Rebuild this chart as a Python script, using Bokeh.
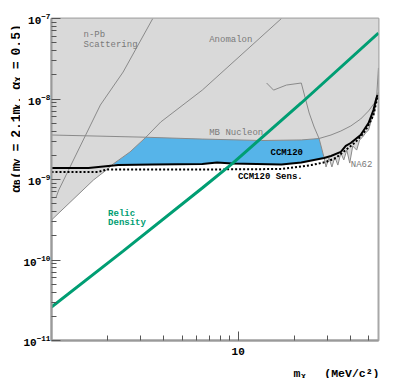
import math
from bokeh.plotting import figure
from bokeh.layouts import row, column
from bokeh.models import FixedTicker, LogTickFormatter, BasicTickFormatter
from bokeh.core.properties import value
from bokeh.embed import file_html
from bokeh.resources import INLINE

# ---------------- data ----------------
x_major_ticks = [10]
x_minor_ticks = [2, 3, 4, 5, 6, 7, 8, 9, 20, 30, 40, 50]
y_major_ticks = [1e-11, 1e-10, 1e-9, 1e-8, 1e-7]
y_minor_ticks = [m * 10.0 ** e for e in (-11, -10, -9, -8) for m in range(2, 10)]

# Anomalon bound (also lower edge of the grey region at small mass)
anom_x = [1.0, 1.678, 1.966, 2.141, 2.634, 3.203, 3.846, 6.42, 17.04]
anom_y = [3.14e-10, 9.86e-10, 1.31e-9, 1.56e-9, 2.20e-9, 3.35e-9, 5.18e-9, 1.29e-8, 1.0e-7]

# n-Pb scattering bound
npb_x = [1.055, 1.094, 1.827, 2.418, 3.487]
npb_y = [5.89e-10, 7.41e-10, 8.42e-9, 2.16e-8, 1.0e-7]

# MiniBooNE nucleon bound
mb_x = [1.0, 3.203, 6.42, 13.35, 21.76, 27.1, 31.38, 35.44, 40.05, 45.24, 49.88, 53.66, 56.36]
mb_y = [3.57e-9, 3.35e-9, 3.18e-9, 3.05e-9, 3.10e-9, 3.23e-9, 3.57e-9, 4.0e-9, 4.62e-9,
        5.64e-9, 7.1e-9, 8.92e-9, 1.22e-8]

# other (kinked) beam-dump bound
bd_x = [14.19, 15.46, 18.12, 21.76, 23.99, 25.5, 27.1, 28.81]
bd_y = [1.58e-8, 1.29e-8, 1.49e-8, 1.58e-8, 6.70e-9, 4.49e-9, 3.23e-9, 1.88e-9]

# NA62 bound (spiky)
na_x = [28.81, 29.52, 30.62, 31.76, 32.94, 34.17, 35.44, 36.77, 38.14, 39.56, 41.05, 43.09,
        44.69, 46.36, 48.08, 49.88, 51.73, 53.66, 55.0, 56.36]
na_y = [1.90e-9, 1.43e-9, 1.85e-9, 1.43e-9, 1.90e-9, 1.51e-9, 2.13e-9, 1.75e-9, 2.32e-9,
        1.60e-9, 2.61e-9, 2.32e-9, 3.10e-9, 3.37e-9, 3.78e-9, 4.12e-9, 5.48e-9, 6.90e-9,
        9.72e-9, 2.43e-8]

# CCM120 limit (solid)
ccm_x = [1.0, 1.578, 1.895, 2.276, 3.487, 6.42, 7.71, 9.26, 17.04, 21.76, 28.81, 31.38,
         35.44, 37.67, 40.05, 45.24, 49.88, 53.01, 55.0, 55.67]
ccm_y = [1.39e-9, 1.39e-9, 1.45e-9, 1.51e-9, 1.54e-9, 1.56e-9, 1.63e-9, 1.58e-9, 1.54e-9,
         1.63e-9, 1.85e-9, 1.96e-9, 2.20e-9, 2.61e-9, 2.84e-9, 3.57e-9, 5.03e-9, 7.30e-9,
         1.03e-8, 1.12e-8]

# top edge of the new CCM120 exclusion (blue)
ccm_top_x = [2.141, 2.634, 3.203, 6.42, 13.35, 21.76, 27.1, 28.81]
ccm_top_y = [1.56e-9, 2.20e-9, 3.35e-9, 3.18e-9, 3.05e-9, 3.10e-9, 3.23e-9, 1.88e-9]

# CCM120 sensitivity (dotted)
sens_x = [1.0, 1.783, 1.966, 6.42, 17.04, 24.58, 29.52, 33.35, 37.67, 42.56, 46.93, 49.27,
          53.01, 55.67]
sens_y = [1.24e-9, 1.24e-9, 1.33e-9, 1.33e-9, 1.35e-9, 1.51e-9, 1.65e-9, 1.85e-9, 2.32e-9,
          2.92e-9, 3.78e-9, 4.49e-9, 6.33e-9, 1.06e-8]

# Relic density target
relic_x = [1.0, 2.418, 6.42, 9.26, 21.76, 56.36]
relic_y = [2.61e-11, 1.29e-10, 7.84e-10, 1.56e-9, 8.92e-9, 6.60e-8]

# in-plot labels
grey_text = ["n-Pb", "Scattering", "Anomalon", "MB Nucleon", "NA62"]
grey_tx = [1.485, 1.485, 6.99, 6.99, 40.05]
grey_ty = [6.24e-8, 4.69e-8, 5.41e-8, 3.78e-9, 1.51e-9]
ccm_text = ["CCM120", "CCM120 Sens."]
ccm_tx = [14.9, 9.96]
ccm_ty = [2.13e-9, 1.06e-9]
relic_text = ["Relic", "Density"]
relic_tx = [2.01, 2.01]
relic_ty = [3.73e-10, 2.88e-10]

# axis titles: normal pieces and subscript pieces, with their character slot
y_title_main = ["α", "(m", "=", "2.1m", ",", "α", "=", "0.5)"]
y_title_main_slot = [0, 2, 6, 8, 13, 15, 18, 20]
y_title_subs = ["B", "V", "χ", "χ"]
y_title_sub_slot = [1, 4, 12, 16]
x_title_main = "m"
x_title_sub = "χ"
x_title_unit = "(MeV/c²)"

X_MIN, X_MAX = 1.0, 56.4
Y_MIN, Y_MAX = 1e-11, 1e-7

# ---------------- build polygons from the curves ----------------
gx = [X_MIN, X_MIN] + anom_x[:4]
gy = [Y_MAX, anom_y[0]] + anom_y[:4]
for xx, yy in zip(ccm_x, ccm_y):
    if anom_x[3] < xx < na_x[0]:
        gx.append(xx); gy.append(yy)
gx += na_x + [X_MAX, X_MAX]
gy += na_y + [na_y[-1], Y_MAX]

bx = list(ccm_top_x)
by = list(ccm_top_y)
for xx, yy in reversed(list(zip(ccm_x, ccm_y))):
    if ccm_top_x[0] < xx <= ccm_top_x[-1]:
        bx.append(xx); by.append(yy)

# ---------------- geometry ----------------
LEFT_STRIP = 20          # strip holding the rotated y title
P_LEFT, P_TOP, P_RIGHT, P_BOTTOM = 28, 18, 12, 26
FW, FH = 330, 322
P_H = P_TOP + FH + P_BOTTOM
P_W = P_LEFT + FW + P_RIGHT
BOTTOM_STRIP = 12

# ---------------- main figure ----------------
p = figure(x_axis_type="log", y_axis_type="log",
           x_range=(X_MIN, X_MAX), y_range=(Y_MIN, Y_MAX),
           width=P_W, height=P_H,
           min_border_left=P_LEFT, min_border_right=P_RIGHT,
           min_border_top=P_TOP, min_border_bottom=P_BOTTOM,
           output_backend="svg", toolbar_location=None,
           background_fill_color="white", border_fill_color="white")
p.xgrid.visible = False
p.ygrid.visible = False
p.outline_line_color = "#a8a8a8"
p.outline_line_width = 2

p.xaxis.ticker = FixedTicker(ticks=x_major_ticks, minor_ticks=x_minor_ticks)
p.xaxis.formatter = BasicTickFormatter()
p.yaxis.ticker = FixedTicker(ticks=y_major_ticks, minor_ticks=y_minor_ticks)
p.yaxis.formatter = LogTickFormatter()
for ax in (p.xaxis[0], p.yaxis[0]):
    ax.axis_line_color = "#9a9a9a"
    ax.axis_line_width = 2
    ax.major_tick_in = 9
    ax.major_tick_out = 0
    ax.minor_tick_in = 5
    ax.minor_tick_out = 0
    ax.major_tick_line_color = "#555555"
    ax.minor_tick_line_color = "#555555"
    ax.major_label_text_font = "Liberation Mono"
    ax.major_label_text_font_style = "bold"
    ax.major_label_text_font_size = "11px"
    ax.major_label_text_color = "black"
p.xaxis.major_label_standoff = 7
p.yaxis.major_label_standoff = 1

p.patch(gx, gy, fill_color="#d9d9d9", line_color=None)
p.patch(bx, by, fill_color="#56B4E9", line_color=None)

grey_line = dict(line_color="#8a8a8a", line_width=1)
p.line(npb_x, npb_y, **grey_line)
p.line(anom_x, anom_y, **grey_line)
p.line(mb_x, mb_y, **grey_line)
p.line(bd_x, bd_y, **grey_line)
p.line(na_x, na_y, **grey_line)

p.line(ccm_x, ccm_y, line_color="black", line_width=2)
p.line(sens_x, sens_y, line_color="black", line_width=2, line_dash="2 2")
p.line(relic_x, relic_y, line_color="#009E73", line_width=3)

mono = value("Liberation Mono")
p.text(grey_tx, grey_ty, text=grey_text, text_font=mono, text_font_size="9px",
       text_color="#7a7a7a", text_baseline="middle", text_align="left")
p.text(ccm_tx, ccm_ty, text=ccm_text, text_font=mono, text_font_size="9px",
       text_font_style="bold", text_color="black", text_baseline="middle", text_align="left")
p.text(relic_tx, relic_ty, text=relic_text, text_font=mono, text_font_size="9px",
       text_font_style="bold", text_color="#009E73", text_baseline="middle", text_align="left")


def strip(w, h):
    f = figure(width=w, height=h, x_range=(0, w), y_range=(0, h), title=None,
               x_axis_location=None, y_axis_location=None,
               min_border=0, output_backend="svg", toolbar_location=None,
               background_fill_color="white", border_fill_color="white")
    f.grid.visible = False
    f.outline_line_color = None
    return f


# ---------------- y title strip (pixel coordinates of the strip) ----------------
ly = strip(LEFT_STRIP, P_H)
pitch = 7.8
base_y = P_H - 198          # bottom end of the rotated title
ly.text([15.5] * len(y_title_main), [base_y + k * pitch for k in y_title_main_slot],
        text=y_title_main, angle=math.pi / 2, text_font=mono,
        text_font_size="13px", text_font_style="bold", text_color="black",
        text_baseline="alphabetic", text_align="left")
ly.text([17.5] * len(y_title_subs), [base_y + k * pitch + 1 for k in y_title_sub_slot],
        text=y_title_subs, angle=math.pi / 2, text_font=mono, text_font_size="9px",
        text_font_style="bold", text_color="black", text_baseline="alphabetic",
        text_align="left")

# ---------------- x title strip ----------------
TOTAL_W = LEFT_STRIP + P_W
lx = strip(TOTAL_W, BOTTOM_STRIP)
lx.text([293], [5], text=[x_title_main], text_font=mono, text_font_size="11.5px",
        text_font_style="bold", text_color="black", text_baseline="alphabetic",
        text_align="left")
lx.text([300.5], [3], text=[x_title_sub], text_font=mono, text_font_size="8px",
        text_font_style="bold", text_color="black", text_baseline="alphabetic",
        text_align="left")
lx.text([379], [5], text=[x_title_unit], text_font=mono, text_font_size="11.5px",
        text_font_style="bold", text_color="black", text_baseline="alphabetic",
        text_align="right")

layout = column(row(ly, p, spacing=0), lx, spacing=0)
open("out.html", "w").write(file_html(layout, INLINE))
